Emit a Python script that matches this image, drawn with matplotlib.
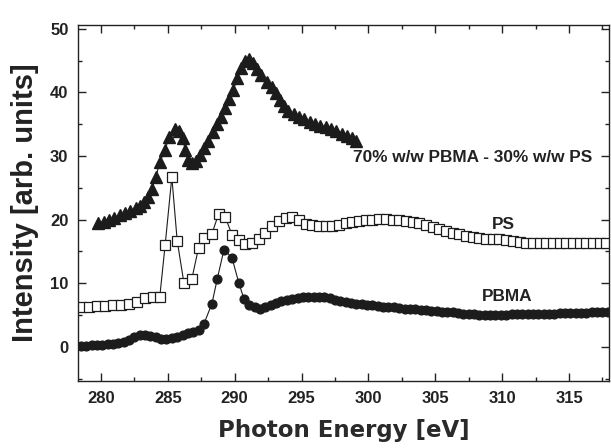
import matplotlib
matplotlib.use("Agg")
import matplotlib.pyplot as plt
from matplotlib.ticker import MultipleLocator

plt.rcParams['font.family'] = ['Liberation Sans', 'DejaVu Sans']

# ---- data ----
pbma_x = [278.5, 278.9, 279.3, 279.7, 280.1, 280.5, 280.9, 281.3, 281.7, 282.1, 282.5, 282.9,
          283.3, 283.7, 284.1, 284.5, 284.9, 285.3, 285.7, 286.1, 286.5, 286.9, 287.3, 287.7,
          288.3, 288.7, 289.2, 289.8, 290.3, 290.7, 291.1, 291.5, 291.9, 292.3, 292.7, 293.1,
          293.5, 293.9, 294.3, 294.7, 295.1, 295.5, 295.9, 296.3, 296.7, 297.1, 297.5, 297.9,
          298.3, 298.7, 299.1, 299.5, 299.9, 300.3, 300.7, 301.1, 301.5, 301.9, 302.3, 302.7,
          303.1, 303.5, 303.9, 304.3, 304.7, 305.1, 305.5, 305.9, 306.3, 306.7, 307.1, 307.5,
          307.9, 308.3, 308.7, 309.1, 309.5, 309.9, 310.3, 310.7, 311.1, 311.5, 311.9, 312.3,
          312.7, 313.1, 313.5, 313.9, 314.3, 314.7, 315.1, 315.5, 315.9, 316.3, 316.7, 317.1,
          317.5, 317.9]
pbma_y = [0.2, 0.2, 0.25, 0.3, 0.35, 0.4, 0.5, 0.6, 0.8, 1.1, 1.5, 1.8,
          1.9, 1.7, 1.5, 1.3, 1.3, 1.4, 1.6, 1.9, 2.1, 2.4, 2.6, 3.6,
          6.8, 10.7, 15.3, 14.0, 10.1, 7.5, 6.6, 6.2, 6.0, 6.3, 6.6, 6.9,
          7.2, 7.4, 7.5, 7.7, 7.8, 7.8, 7.9, 7.9, 7.8, 7.6, 7.4, 7.2,
          7.0, 6.9, 6.8, 6.7, 6.6, 6.5, 6.4, 6.3, 6.2, 6.2, 6.1, 6.0,
          6.0, 5.9, 5.8, 5.8, 5.7, 5.6, 5.5, 5.5, 5.4, 5.3, 5.2, 5.1,
          5.1, 5.0, 5.0, 5.0, 5.0, 5.0, 5.0, 5.1, 5.1, 5.1, 5.1, 5.2,
          5.2, 5.2, 5.2, 5.2, 5.3, 5.3, 5.3, 5.3, 5.3, 5.3, 5.4, 5.4,
          5.4, 5.4]

ps_x = [278.5, 279.1, 279.7, 280.3, 280.9, 281.5, 282.1, 282.7, 283.3, 283.9, 284.4,
        284.8, 285.3, 285.7, 286.2, 286.8, 287.3, 287.7, 288.3,
        288.8, 289.3, 289.8, 290.3, 290.8, 291.3, 291.8, 292.3, 292.8, 293.3,
        293.8, 294.3, 294.8, 295.3, 295.8, 296.3, 296.8, 297.3, 297.8, 298.3,
        298.8, 299.3, 299.8, 300.3, 300.8, 301.3, 301.8, 302.3, 302.8, 303.3,
        303.8, 304.3, 304.8, 305.3, 305.8, 306.3, 306.8, 307.3, 307.8, 308.3,
        308.8, 309.3, 309.8, 310.3, 310.8, 311.3, 311.8, 312.3, 312.8, 313.3,
        313.8, 314.3, 314.8, 315.3, 315.8, 316.3, 316.8, 317.3, 317.8]
ps_y = [6.3, 6.3, 6.4, 6.4, 6.5, 6.6, 6.8, 7.1, 7.6, 7.8, 7.9,
        16.0, 26.7, 16.7, 10.1, 10.7, 15.6, 17.1, 17.8,
        20.9, 20.4, 17.6, 16.8, 16.2, 16.3, 17.0, 17.9, 19.0, 19.8,
        20.2, 20.4, 20.0, 19.3, 19.1, 19.0, 19.0, 19.0, 19.2, 19.5,
        19.7, 19.8, 19.9, 20.0, 20.1, 20.1, 20.0, 20.0, 19.8, 19.7,
        19.5, 19.2, 18.8, 18.5, 18.2, 17.9, 17.7, 17.5, 17.3, 17.1,
        17.0, 17.0, 16.9, 16.8, 16.6, 16.5, 16.4, 16.4, 16.4, 16.3,
        16.3, 16.3, 16.3, 16.3, 16.3, 16.3, 16.3, 16.4, 16.4]

blend_x = [279.8, 280.2, 280.6, 281.0, 281.4, 281.8, 282.2, 282.6, 282.9, 283.2, 283.5,
           283.8, 284.1, 284.4, 284.8, 285.1, 285.5, 285.8, 286.1, 286.3, 286.5, 286.8,
           287.1, 287.4, 287.7, 288.0, 288.4, 288.7, 289.0, 289.3, 289.6, 289.9, 290.2,
           290.5, 290.8, 291.1, 291.4, 291.7, 292.0, 292.4, 292.8, 293.1, 293.4, 293.7,
           294.0, 294.4, 294.8, 295.2, 295.6, 296.0, 296.4, 296.8, 297.2, 297.6, 298.0,
           298.4, 298.8, 299.1]
blend_y = [19.5, 19.7, 20.0, 20.3, 20.7, 21.0, 21.4, 21.8, 22.2, 22.8, 23.6,
           24.8, 26.7, 29.0, 31.0, 33.0, 34.3, 34.0, 32.8, 31.0, 29.4, 28.9,
           29.2, 30.2, 31.2, 32.3, 33.8, 35.0, 36.2, 37.6, 39.0, 40.4, 42.2,
           43.9, 45.0, 45.3, 44.6, 43.7, 42.7, 41.7, 40.8, 39.9, 38.8, 37.8,
           37.1, 36.6, 36.2, 35.8, 35.4, 35.1, 34.8, 34.5, 34.2, 33.9, 33.5,
           33.1, 32.8, 32.4]

labels = ["70% w/w PBMA - 30% w/w PS", "PS", "PBMA"]
x_ticks = [280, 285, 290, 295, 300, 305, 310, 315]
y_ticks = [0, 10, 20, 30, 40, 50]

# ---- plot ----
fig = plt.figure(figsize=(6.11, 4.48), dpi=100)
ax = fig.add_axes([0.128, 0.150, 0.869, 0.794])

dark = '#1c1c1c'
txt = '#222222'
ax.plot(pbma_x, pbma_y, '-', color=dark, lw=0.8, marker='o', ms=6.3,
        mfc=dark, mec=dark)
ax.plot(ps_x, ps_y, '-', color=dark, lw=0.8, marker='s', ms=6.5,
        mfc='white', mec=dark, mew=0.9)
ax.plot(blend_x, blend_y, '-', color=dark, lw=0.8, marker='^', ms=8,
        mfc=dark, mec=dark)

ax.text(307.8, 29.7, labels[0], ha='center', va='center', fontsize=12.4,
        fontweight='bold', color=txt)
ax.text(310.1, 19.3, labels[1], ha='center', va='center', fontsize=12.4,
        fontweight='bold', color=txt)
ax.text(310.4, 7.9, labels[2], ha='center', va='center', fontsize=12.4,
        fontweight='bold', color=txt)

ax.set_xlim(278.3, 318.0)
ax.set_ylim(-5.35, 50.6)
ax.set_xticks(x_ticks)
ax.set_yticks(y_ticks)
ax.xaxis.set_minor_locator(MultipleLocator(2.5))
ax.yaxis.set_minor_locator(MultipleLocator(5))
ax.tick_params(which='both', direction='in', top=True, right=True,
               labelsize=12, colors=txt, width=1.0, pad=7)
ax.tick_params(which='major', length=6)
ax.tick_params(which='minor', length=3)
for lab in ax.get_xticklabels() + ax.get_yticklabels():
    lab.set_fontweight('bold')
for sp in ax.spines.values():
    sp.set_linewidth(1.0)
    sp.set_color(txt)

ax.set_xlabel('Photon Energy [eV]', fontsize=16.5, fontweight='bold',
              family='DejaVu Sans', color='#2a2a2a', labelpad=10)
ax.set_ylabel('Intensity [arb. units]', fontsize=21, fontweight='bold',
              color=txt, labelpad=8)

fig.savefig('out.png', dpi=100)
